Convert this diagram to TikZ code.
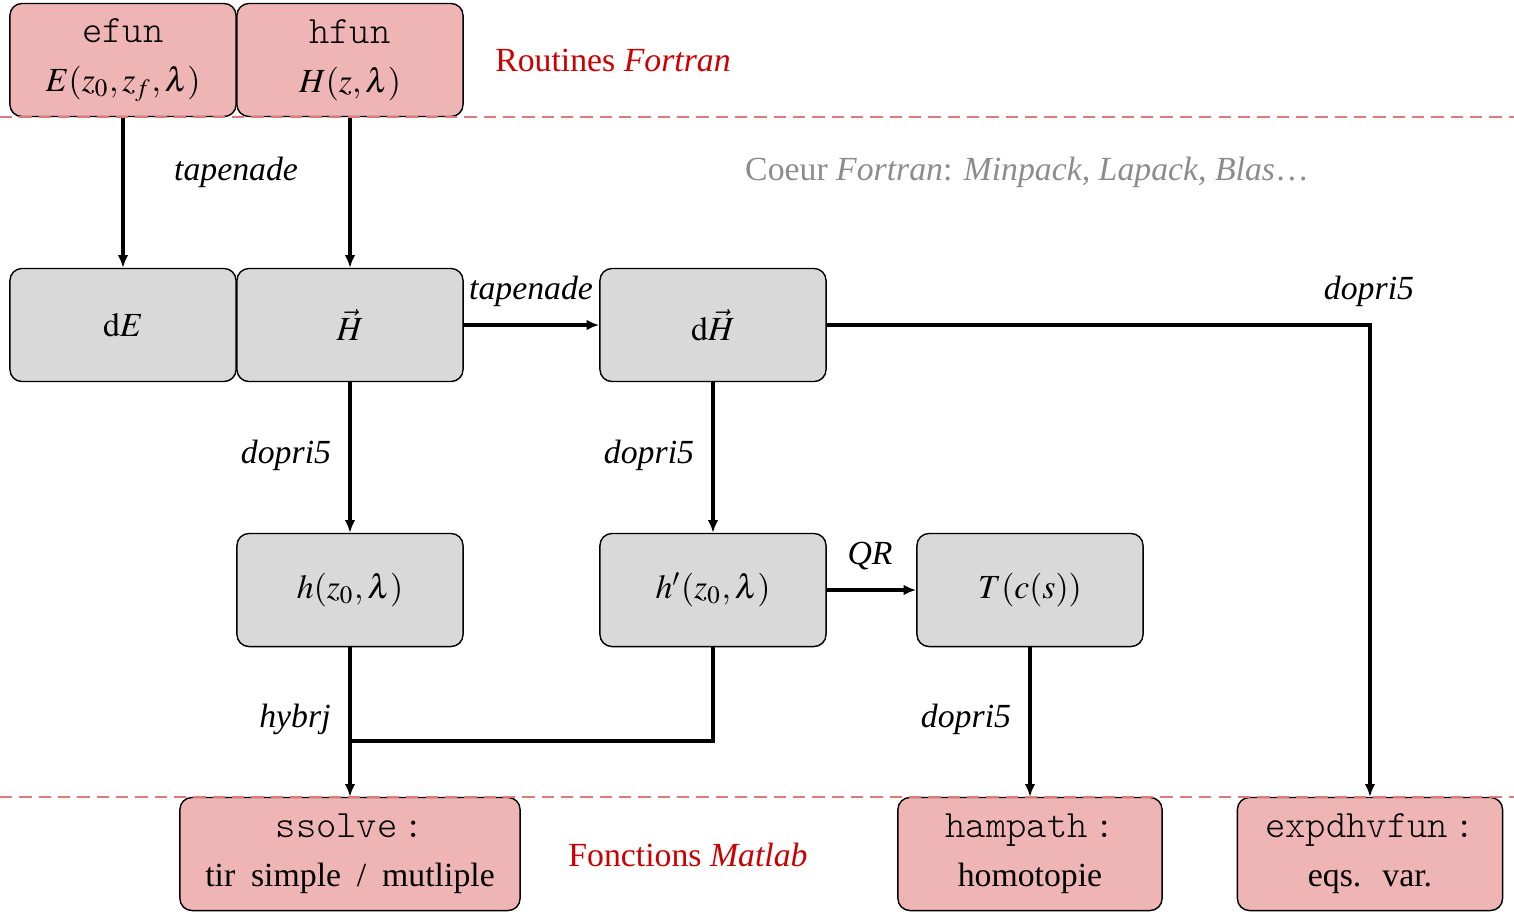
\documentclass[tikz,border=0pt]{standalone}
\usepackage{mathptmx}
\usepackage[no-math]{fontspec}
\setmainfont{Liberation Serif}
\usetikzlibrary{arrows.meta}
\definecolor{rose}{HTML}{EFB5B5}
\definecolor{gris}{HTML}{D9D9D9}
\definecolor{rouge}{HTML}{CC0000}
\definecolor{tiret}{HTML}{E07A7A}
\newcommand{\code}[1]{{\fontsize{11pt}{14pt}\ttfamily\fontseries{l}\selectfont #1}}

\begin{document}
\begin{tikzpicture}[x=0.01cm,y=-0.01cm,font=\fontsize{9.6pt}{14pt}\selectfont,
  boite/.style={draw,rounded corners=0.12cm,minimum width=2.26cm,minimum height=1.13cm,align=center,inner sep=0pt},
  routine/.style={boite,fill=rose},
  calcul/.style={boite,fill=gris},
  fl/.style={line width=1.1pt,-{Latex[length=3.6pt,width=3pt]}}]
\useasboundingbox (0,0) rectangle (1514,911);
\node[routine] (efun) at (123,60) {\code{efun}\\$E(z_0,z_f,\lambda)$};
\node[routine] (hfun) at (350,60) {\code{hfun}\\$H(z,\lambda)$};
\node[calcul] (dE) at (123,325) {$\mathrm{d}E$};
\node[calcul] (H) at (350,325) {$\vec{H}$};
\node[calcul] (dH) at (713,325) {$\mathrm{d}\vec{H}$};
\node[calcul] (h) at (350,590) {$h(z_0,\lambda)$};
\node[calcul] (hp) at (713,590) {$h'(z_0,\lambda)$};
\node[calcul] (T) at (1030,590) {$T(c(s))$};
\node[routine,minimum width=3.4cm] (ssolve) at (350,854) {\code{ssolve\,:}\\{\spaceskip=4.5pt tir simple / mutliple}};
\node[routine,minimum width=2.64cm] (hampath) at (1030,854) {\code{hampath\,:}\\homotopie};
\node[routine,minimum width=2.65cm] (expd) at (1370,854) {\code{expdhvfun\,:}\\eqs.\hspace{6pt}var.};
\node[text=rouge] (fortran) at (613,60) {Routines \textit{Fortran}};
\node[text=rouge] (matlab) at (688,855) {Fonctions \textit{Matlab}};
\node[text=black!45] (coeur) at (1027,172) {Coeur \textit{Fortran}: \textit{Minpack, Lapack, Blas}\ldots};
\draw[fl] (efun) -- (dE);
\draw[fl] (hfun) -- (H);
\draw[fl] (H) -- (dH);
\draw[fl] (H) -- (h);
\draw[fl] (dH) -- (hp);
\draw[fl] (hp) -- (T);
\draw[fl] (h) -- (ssolve);
\coordinate (jonction) at (350,741);
\draw[line width=1.1pt] (hp.south) |- (jonction);
\draw[fl] (T) -- (hampath);
\draw[fl] (dH.east) -| (expd.north);
\node (tap1) at (236,172) {\textit{tapenade}};
\node (tap2) at (531,291) {\textit{tapenade}};
\node (dop1) at (286,455) {\textit{dopri5}};
\node (dop2) at (649,455) {\textit{dopri5}};
\node (dop3) at (1369,291) {\textit{dopri5}};
\node (dop4) at (966,719) {\textit{dopri5}};
\node (qr) at (870,556) {\textit{QR}};
\node (hyb) at (295,719) {\textit{hybrj}};
\draw[tiret,dash pattern=on 3.5pt off 2pt] (0,117) -- (1514,117);
\draw[tiret,dash pattern=on 3.5pt off 2pt] (0,797) -- (1514,797);
\end{tikzpicture}
\end{document}
